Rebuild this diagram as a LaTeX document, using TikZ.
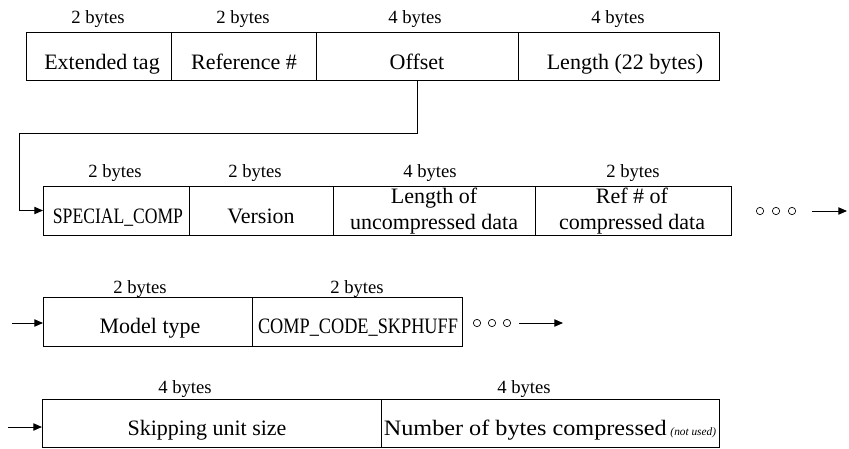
\documentclass[tikz,border=0pt]{standalone}
\usepackage{fontspec}
\setmainfont{Liberation Serif}
\usepackage{graphicx}
\usetikzlibrary{arrows.meta,fit}

\tikzset{every picture/.style={line width=0.75pt}}
\tikzset{
  field/.style={draw, inner sep=0pt, outer sep=0pt},
  fieldtext/.style={anchor=base, inner sep=0pt, font=\fontsize{16.5}{19}\selectfont},
  bytelabel/.style={anchor=base, inner sep=0pt, font=\fontsize{14}{16}\selectfont},
  etcdot/.style={draw, circle, inner sep=0pt, minimum size=5.5pt, line width=0.5pt},
  arr/.style={-{Triangle[length=6.5pt,width=5.5pt]}}
}

\begin{document}
\begin{tikzpicture}[x=0.75pt,y=0.75pt,yscale=-1,xscale=1]
\path[use as bounding box] (0,0) rectangle (849,449);

%Shape: Rectangle (extended tag record)
\node[field, fit={(26,33) (171,81)}] (tag) {};
\node[field, fit={(171,33) (316,81)}] (ref) {};
\node[field, fit={(316,33) (518,81)}] (off) {};
\node[field, fit={(518,33) (719,81)}] (len) {};
%Shape: Rectangle (special compression header)
\node[field, fit={(43,186) (189,235)}] (spec) {};
\node[field, fit={(189,186) (333,235)}] (ver) {};
\node[field, fit={(333,186) (535,235)}] (ulen) {};
\node[field, fit={(535,186) (731,235)}] (cref) {};
%Shape: Rectangle (model)
\node[field, fit={(43,297) (252,346)}] (model) {};
\node[field, fit={(252,297) (462,346)}] (code) {};
%Shape: Rectangle (skipping huffman)
\node[field, fit={(42,399) (381,447)}] (skip) {};
\node[field, fit={(381,399) (719,447)}] (nbytes) {};

% Text Node
\node[bytelabel] (tagB) at (98,24) {2 bytes};
\node[bytelabel] (refB) at (243,24) {2 bytes};
\node[bytelabel] (offB) at (415,24) {4 bytes};
\node[bytelabel] (lenB) at (618,24) {4 bytes};
\node[fieldtext] (tagT) at (102,70) {Extended tag};
\node[fieldtext] (refT) at (244,70) {Reference \#};
\node[fieldtext] (offT) at (417,70) {Offset};
\node[fieldtext] (lenT) at (625,70) {Length (22 bytes)};

% Text Node
\node[bytelabel] (specB) at (115,177) {2 bytes};
\node[bytelabel] (verB) at (255,177) {2 bytes};
\node[bytelabel] (ulenB) at (430,177) {4 bytes};
\node[bytelabel] (crefB) at (633,177) {2 bytes};
\node[fieldtext] (specT) at (118,223) {\scalebox{0.8}[1]{SPECIAL\_COMP}};
\node[fieldtext] (verT) at (261,223) {Version};
\node[fieldtext] (ulenT) at (434,204) {Length of};
\node[fieldtext] (ulenT2) at (434,229) {uncompressed data};
\node[fieldtext] (crefT) at (632,204) {Ref \# of};
\node[fieldtext] (crefT2) at (632,229) {compressed data};

% Text Node
\node[bytelabel] (modelB) at (140,293) {2 bytes};
\node[bytelabel] (codeB) at (357,293) {2 bytes};
\node[fieldtext] (modelT) at (150,333) {Model type};
\node[fieldtext] (codeT) at (358,333) {\scalebox{0.83}[1]{COMP\_CODE\_SKPHUFF}};

% Text Node
\node[bytelabel] (skipB) at (185,393) {4 bytes};
\node[bytelabel] (nbytesB) at (524,393) {4 bytes};
\node[fieldtext] (skipT) at (207,435) {Skipping unit size};
\node[fieldtext] (nbytesT) at (550,435) {\scalebox{1.1}[1]{Number of bytes compressed}\,{\fontsize{8.5}{10}\itshape (not used)}};

%Straight Lines: offset points to the special header
\coordinate (loop) at (19,134);
\draw[arr] (off.south) |- (loop) |- (spec.west);

%Shape: Circle (more fields follow)
\node[etcdot] (d1) at (760,211) {};
\node[etcdot] (d2) at (776,211) {};
\node[etcdot] (d3) at (792,211) {};
\coordinate (out2) at (847,211);
\draw[arr, shorten <=12pt] (d3.east) -- (out2);

\node[etcdot] (e1) at (477,323) {};
\node[etcdot] (e2) at (492,323) {};
\node[etcdot] (e3) at (507,323) {};
\coordinate (out3) at (563,323);
\draw[arr, shorten <=6pt] (e3.east) -- (out3);

%Straight Lines: incoming arrows
\coordinate (in3) at (12,323);
\draw[arr] (in3) -- (in3 -| model.west);
\coordinate (in4) at (8,427);
\draw[arr] (in4) -- (in4 -| skip.west);

\end{tikzpicture}
\end{document}
